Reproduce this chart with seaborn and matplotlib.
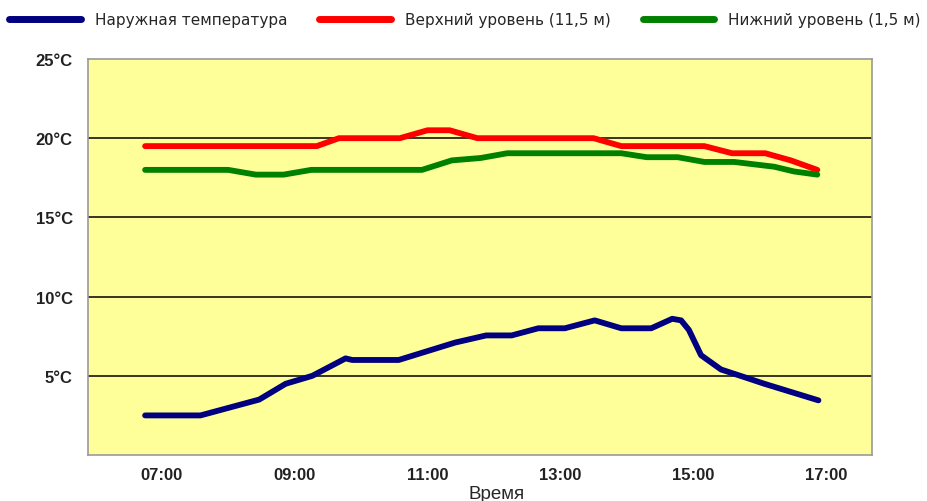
import numpy as np
import pandas as pd
import seaborn as sns
import matplotlib.pyplot as plt

# данные (время -> температура, °C)
outside_time = ["06:45", "07:35", "08:28", "08:52", "09:16", "09:46", "09:52", "10:34",
                "11:25", "11:53", "12:16", "12:40", "13:04", "13:31", "13:55", "14:22",
                "14:41", "14:49", "14:56", "15:07", "15:25", "15:49", "16:04", "16:53"]
outside_temp = [2.5, 2.5, 3.5, 4.5, 5.0, 6.1, 6.0, 6.0,
                7.1, 7.55, 7.55, 8.0, 8.0, 8.5, 8.0, 8.0,
                8.6, 8.5, 7.9, 6.3, 5.4, 4.85, 4.5, 3.45]

upper_time = ["06:45", "09:20", "09:40", "10:35", "11:00", "11:20", "11:45",
              "13:30", "13:55", "15:10", "15:35", "16:05", "16:28", "16:52"]
upper_temp = [19.5, 19.5, 20.0, 20.0, 20.5, 20.5, 20.0,
              20.0, 19.5, 19.5, 19.05, 19.05, 18.6, 18.0]

lower_time = ["06:45", "08:00", "08:25", "08:50", "09:15", "10:55", "11:22", "11:48",
              "12:12", "13:55", "14:18", "14:46", "15:10", "15:37", "16:13", "16:31", "16:52"]
lower_temp = [18.0, 18.0, 17.7, 17.7, 18.0, 18.0, 18.6, 18.75,
              19.05, 19.05, 18.8, 18.8, 18.5, 18.5, 18.2, 17.9, 17.7]

series_names = ["Наружная температура", "Верхний уровень (11,5 м)", "Нижний уровень (1,5 м)"]
series_colors = ["#000080", "#ff0000", "#008000"]

hour_ticks = [7, 9, 11, 13, 15, 17]
temp_ticks = [5, 10, 15, 20, 25]


def to_hours(times):
    return [int(t[:2]) + int(t[3:]) / 60 for t in times]


frames = []
for name, t, v in [(series_names[0], outside_time, outside_temp),
                   (series_names[1], upper_time, upper_temp),
                   (series_names[2], lower_time, lower_temp)]:
    frames.append(pd.DataFrame({"hour": to_hours(t), "temp": v, "series": name}))
df = pd.concat(frames, ignore_index=True)

sns.set_style("white")
plt.rcParams["font.family"] = ["Liberation Sans", "DejaVu Sans"]

fig = plt.figure(figsize=(9.27, 5.02), dpi=100)
ax = fig.add_axes([0.0949, 0.0916, 0.8458, 0.7889])
ax.set_facecolor("#ffff99")

sns.lineplot(data=df, x="hour", y="temp", hue="series", hue_order=series_names,
             palette=series_colors, linewidth=4.2, sort=False, estimator=None,
             ax=ax, legend=True, zorder=3)

ax.set_xlim(5.89, 17.69)
ax.set_ylim(0, 25)
ax.set_xticks(hour_ticks)
ax.set_xticklabels([f"{h:02d}:00" for h in hour_ticks], fontweight="bold", fontsize=12,
                   color="#222222")
ax.set_yticks(temp_ticks)
ax.set_yticklabels([f"{t}°C" for t in temp_ticks], fontweight="bold", fontsize=12,
                   color="#222222")
ax.tick_params(axis="x", direction="out", length=6.5, width=1, color="#444444", pad=2)
ax.tick_params(axis="y", length=0, pad=11)

for t in temp_ticks[:-1]:
    ax.axhline(t, color="black", linewidth=1.1, zorder=1)

for sp in ax.spines.values():
    sp.set_color("#9a9a9a")
    sp.set_linewidth(1.2)

ax.set_xlabel("")
ax.set_ylabel("")
fig.text(497 / 927, 1 - 486 / 502, "Время", fontsize=13.5, ha="center", va="top")

leg = ax.legend(loc="center left", bbox_to_anchor=(9 / 927, 1 - 21 / 502),
                bbox_transform=fig.transFigure, ncol=3, frameon=False,
                prop={"family": "DejaVu Sans", "size": 11},
                handlelength=4.7, handletextpad=0.9, columnspacing=2.1,
                borderaxespad=0, borderpad=0)
for line in leg.get_lines():
    line.set_linewidth(5)

plt.savefig("out.png", dpi=100)
